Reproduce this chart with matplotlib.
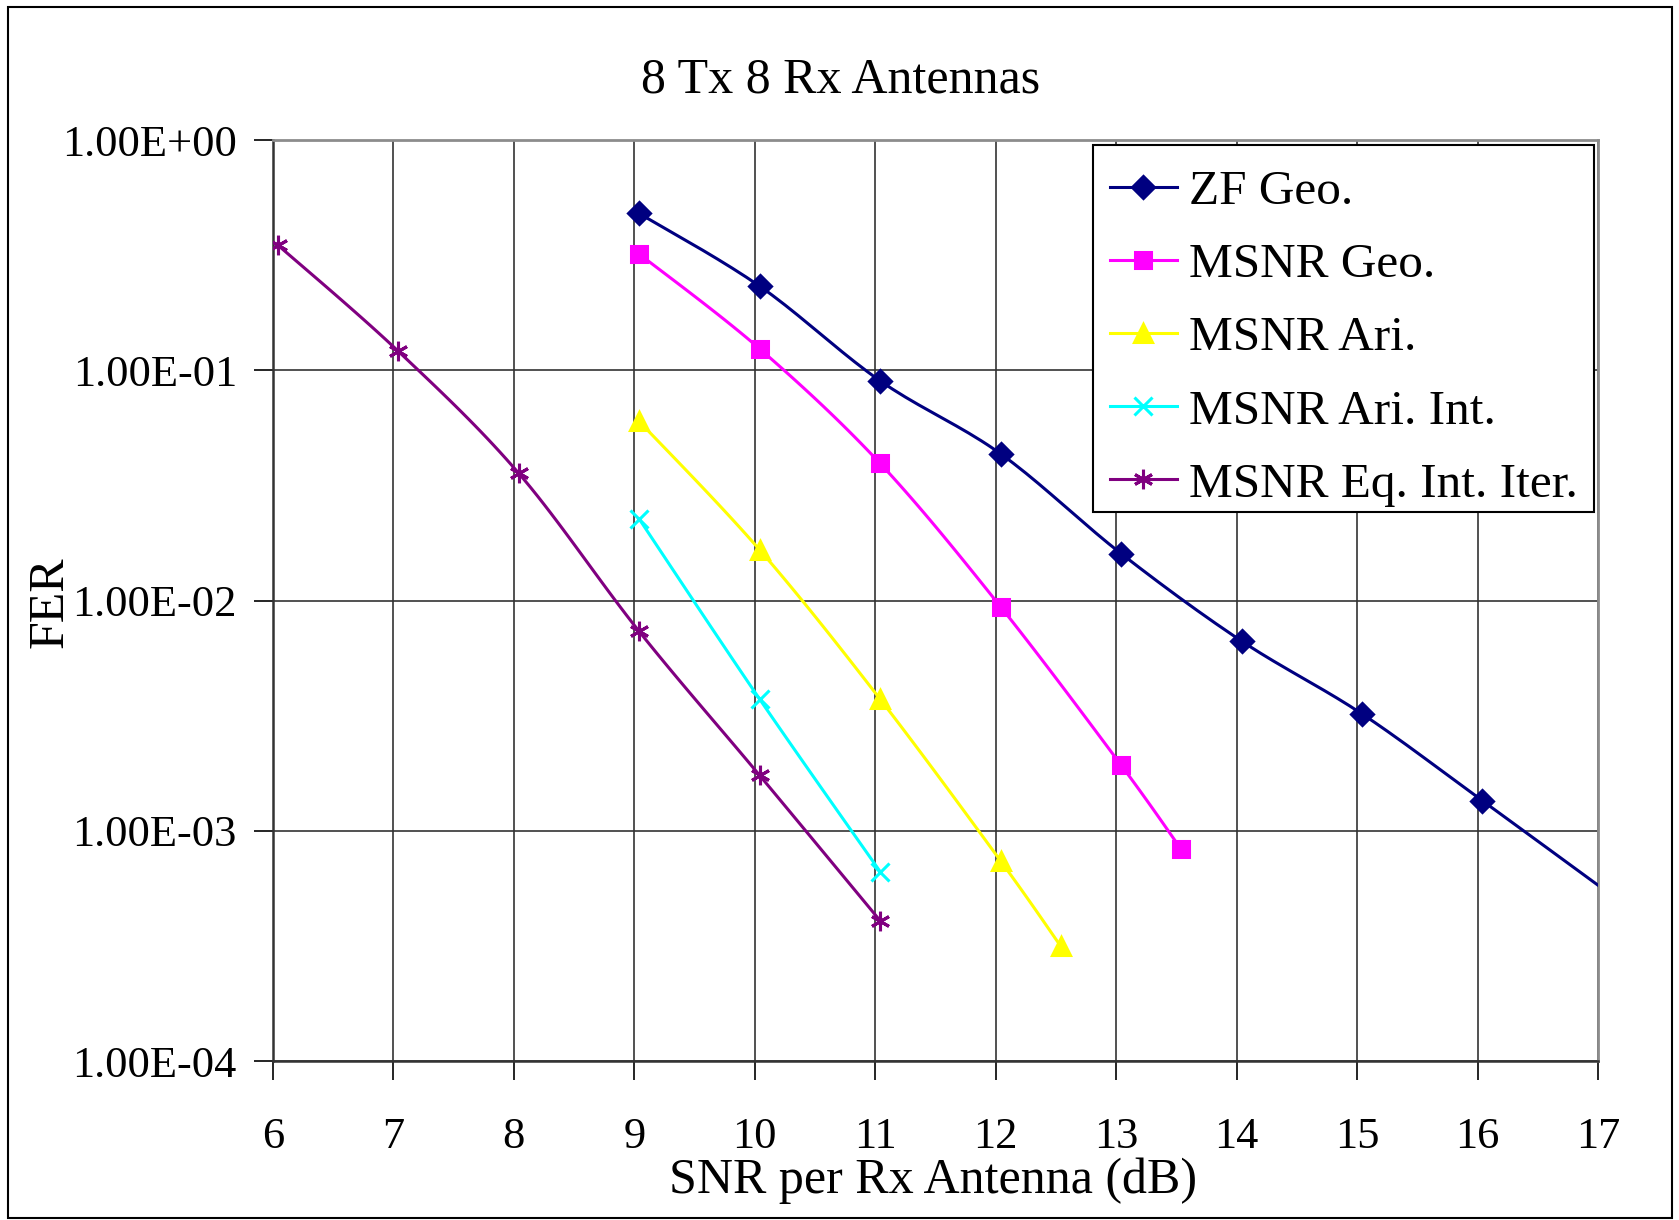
import matplotlib
matplotlib.use("Agg")
import matplotlib.pyplot as plt
import numpy as np
from matplotlib.patches import Rectangle

plt.rcParams['font.family'] = ['Liberation Serif', 'DejaVu Serif']

# SNR per Rx antenna (dB) and FER for each scheme
snr_zf = [9.04, 10.04, 11.04, 12.04, 13.04, 14.04, 15.04, 16.04, 17.04]
fer_zf = [0.48, 0.232, 0.090, 0.0434, 0.0160, 0.00667, 0.00322, 0.00135, 0.00056]

snr_msnr_geo = [9.04, 10.04, 11.04, 12.04, 13.04, 13.54]
fer_msnr_geo = [0.32, 0.124, 0.0394, 0.0094, 0.00193, 0.00083]

snr_msnr_ari = [9.04, 10.04, 11.04, 12.04, 12.54]
fer_msnr_ari = [0.060, 0.0166, 0.00373, 0.00074, 0.000315]

snr_ari_int = [9.04, 10.04, 11.04]
fer_ari_int = [0.0226, 0.00373, 0.000665]

snr_eq_iter = [6.04, 7.04, 8.04, 9.04, 10.04, 11.04]
fer_eq_iter = [0.35, 0.121, 0.0357, 0.00734, 0.00174, 0.000407]

labels = ['ZF Geo.', 'MSNR Geo.', 'MSNR Ari.', 'MSNR Ari. Int.', 'MSNR Eq. Int. Iter.']
colors = ['#000080', '#FF00FF', '#FFFF00', '#00FFFF', '#800080']
markers = ['D', 's', '^', 'x', (6, 2, 0)]

x_ticks = list(range(6, 18))
y_exps = [0, -1, -2, -3, -4]


def smooth(x, y, n=20):
    # Excel-style smoothed line (Catmull-Rom through the points, in log space)
    x = np.asarray(x, float)
    ly = np.log10(np.asarray(y, float))
    px = np.concatenate([[x[0]], x, [x[-1]]])
    py = np.concatenate([[ly[0]], ly, [ly[-1]]])
    ox, oy = [], []
    t = np.linspace(0, 1, n)
    for i in range(1, len(px) - 2):
        p0x, p1x, p2x, p3x = px[i - 1:i + 3]
        p0y, p1y, p2y, p3y = py[i - 1:i + 3]
        c1x, c1y = p1x + (p2x - p0x) / 6, p1y + (p2y - p0y) / 6
        c2x, c2y = p2x - (p3x - p1x) / 6, p2y - (p3y - p1y) / 6
        bx = (1 - t) ** 3 * p1x + 3 * (1 - t) ** 2 * t * c1x + 3 * (1 - t) * t ** 2 * c2x + t ** 3 * p2x
        by = (1 - t) ** 3 * p1y + 3 * (1 - t) ** 2 * t * c1y + 3 * (1 - t) * t ** 2 * c2y + t ** 3 * p2y
        ox.extend(bx)
        oy.extend(by)
    return np.array(ox), 10 ** np.array(oy)


W, H = 1679, 1220
fig = plt.figure(figsize=(W / 100, H / 100), dpi=100)
fig.patches.append(Rectangle((8 / W, 2 / H), 1664 / W, 1211 / H,
                             transform=fig.transFigure, fill=False,
                             edgecolor='black', linewidth=1.5))
ax = fig.add_axes([0.1626, 0.1303, 0.7892, 0.7549])

series = [(snr_zf, fer_zf), (snr_msnr_geo, fer_msnr_geo), (snr_msnr_ari, fer_msnr_ari),
          (snr_ari_int, fer_ari_int), (snr_eq_iter, fer_eq_iter)]
msizes = [11, 12, 13, 13, 14]
handles = []
for (sx, sy), lab, c, m, ms in zip(series, labels, colors, markers, msizes):
    cx, cy = smooth(sx, sy)
    ax.plot(cx, cy, color=c, lw=2.2, zorder=3)
    # last ZF point lies outside the axis, no marker there
    mx, my = (sx[:-1], sy[:-1]) if lab == 'ZF Geo.' else (sx, sy)
    ax.plot(mx, my, ls='none', marker=m, ms=ms, color=c, mew=2.2, zorder=4)
    h, = ax.plot([], [], color=c, lw=2.2, marker=m, ms=ms, mew=2.2)
    handles.append(h)

ax.set_yscale('log')
ax.set_xlim(6, 17)
ax.set_ylim(1e-4, 1)
ax.set_xticks(x_ticks)
ax.set_xticklabels([str(v) for v in x_ticks])
ax.set_yticks([10.0 ** e for e in y_exps])
ax.set_yticklabels(['1.00E+00' if e == 0 else '1.00E-%02d' % (-e) for e in y_exps])
ax.minorticks_off()
ax.tick_params(axis='both', direction='out', length=14, width=1.2, labelsize=32, color='black')
ax.tick_params(axis='x', pad=26)
ax.tick_params(axis='y', pad=12)
ax.grid(True, which='major', color='#333333', lw=1.2)
ax.set_axisbelow(True)
for s in ['top', 'right']:
    ax.spines[s].set_color('#8c8c8c')
    ax.spines[s].set_linewidth(2)
for s in ['left', 'bottom']:
    ax.spines[s].set_color('#333333')
    ax.spines[s].set_linewidth(1.8)

fig.text(0.5007, 0.934, '8 Tx 8 Rx Antennas', fontsize=36, ha='center', va='center')
fig.text(0.556, 0.032, 'SNR per Rx Antenna (dB)', fontsize=36, ha='center', va='center')
fig.text(0.030, 0.506, 'FER', fontsize=36, ha='center', va='center', rotation=90)

# legend box drawn separately so its padding matches the original
ax.add_patch(Rectangle((1093 / W, 1 - 512 / H), 501 / W, 367 / H, transform=fig.transFigure,
                       facecolor='white', edgecolor='black', linewidth=1.5,
                       clip_on=False, zorder=4.5))
leg = ax.legend(handles, labels, loc='upper left', bbox_to_anchor=(1085.5 / W, 1 - 145 / H),
                bbox_transform=fig.transFigure, fontsize=35.5, frameon=False,
                handlelength=1.35, handletextpad=0.25,
                labelspacing=0.58, borderpad=0.5, borderaxespad=0)

fig.savefig('out.png', dpi=100)
